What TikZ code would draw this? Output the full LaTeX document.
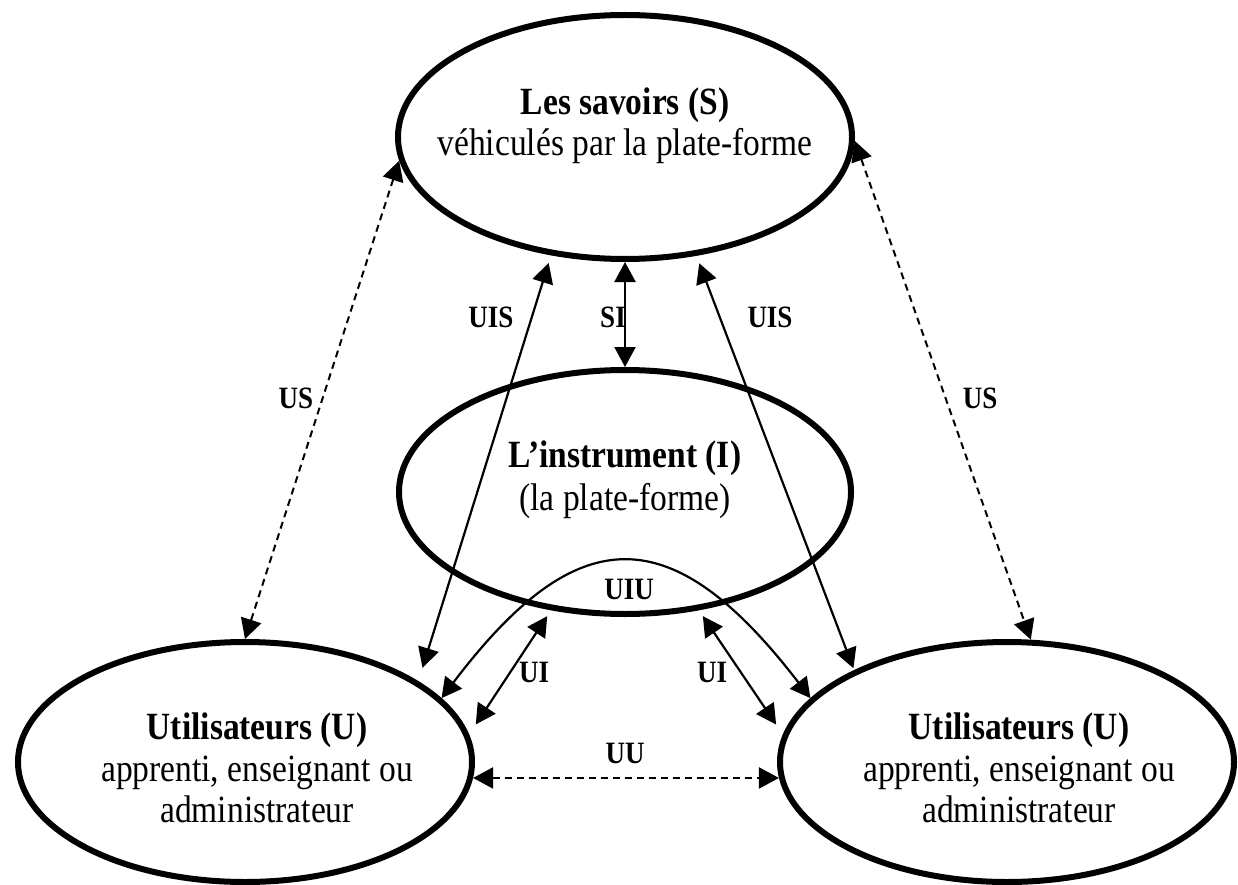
\documentclass[tikz,border=0pt]{standalone}
\usepackage{fontspec}
\setmainfont{Liberation Serif}
\usetikzlibrary{shapes.geometric,arrows.meta}
\newcommand{\vstretch}[1]{\scalebox{1}[1.15]{#1}}
\begin{document}
\begin{tikzpicture}[x=1pt,y=-1pt,
  ell/.style={ellipse,draw,line width=6pt,inner sep=0pt,minimum width=454pt},
  maintxt/.style={font=\fontsize{33.5}{40}\selectfont, inner sep=0pt, anchor=base},
  maintxtb/.style={maintxt, font=\fontsize{33.5}{40}\selectfont\bfseries},
  lab/.style={font=\fontsize{27}{30}\selectfont\bfseries, inner sep=0pt},
  link/.style={line width=2.2pt, {Triangle[length=20pt,width=21pt]}-{Triangle[length=20pt,width=21pt]}},
  dlink/.style={link, line width=2pt, dash pattern=on 7pt off 5pt}
]
\path[use as bounding box, fill=white] (0,0) rectangle (1238,885);

% ellipses
\node[ell, minimum height=244pt] (S) at (625,137) {};
\node[ell, minimum width=452pt, minimum height=244pt] (I) at (625,492) {};
\node[ell, minimum height=240pt] (UL) at (245,762) {};
\node[ell, minimum height=240pt] (UR) at (1007,762) {};

% texts
\node[maintxtb] (s1) at (625,115) {\vstretch{Les savoirs (S)}};
\node[maintxt]  (s2) at (625,156) {\vstretch{véhiculés par la plate-forme}};
\node[maintxtb] (i1) at (625,467) {\vstretch{L’instrument (I)}};
\node[maintxt]  (i2) at (625,510) {\vstretch{(la plate-forme)}};
\node[maintxtb] (ul1) at (257,739) {\vstretch{Utilisateurs (U)}};
\node[maintxt]  (ul2) at (257,781) {\vstretch{apprenti, enseignant ou}};
\node[maintxt]  (ul3) at (257,822) {\vstretch{administrateur}};
\node[maintxtb] (ur1) at (1019,739) {\vstretch{Utilisateurs (U)}};
\node[maintxt]  (ur2) at (1019,781) {\vstretch{apprenti, enseignant ou}};
\node[maintxt]  (ur3) at (1019,822) {\vstretch{administrateur}};

% connectors
\draw[dlink] (S.186) -- (UL.90);
\draw[link, shorten <=8pt, shorten >=14pt] (S.238) -- (UL.25);
\draw[link] (S.270) -- (I.90);
\draw[link, shorten <=8pt, shorten >=2pt] (S.301) -- (UR.149);
\draw[dlink] (S.359) -- (UR.79);
\draw[link] (UL.18) .. controls (578,518) and (672,518) .. (UR.162);
\draw[link, shorten <=12pt, shorten >=7pt] (UL.7) -- (I.238);
\draw[link, shorten <=7pt, shorten >=12pt] (I.302) -- (UR.173);
\draw[dlink] (UL.356) -- (UR.184);

% labels
\node[lab] (lUISl) at (491,317) {\vstretch{UIS}};
\node[lab] (lSI) at (613,317) {\vstretch{SI}};
\node[lab] (lUISr) at (770,317) {\vstretch{UIS}};
\node[lab] (lUSl) at (296,398) {\vstretch{US}};
\node[lab] (lUSr) at (980,398) {\vstretch{US}};
\node[lab] (lUIU) at (629,589) {\vstretch{UIU}};
\node[lab] (lUIl) at (534,672) {\vstretch{UI}};
\node[lab] (lUIr) at (712,672) {\vstretch{UI}};
\node[lab] (lUU) at (625,753) {\vstretch{UU}};
\end{tikzpicture}
\end{document}
